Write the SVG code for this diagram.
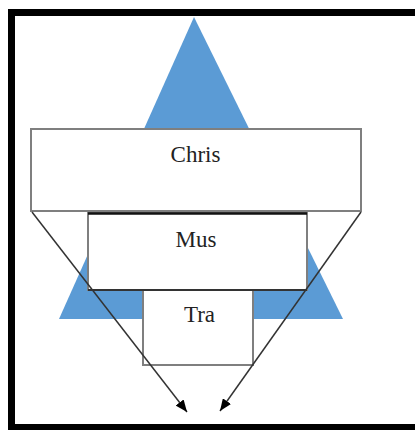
<svg xmlns="http://www.w3.org/2000/svg" width="415" height="430" viewBox="0 0 415 430">
<style>
.box{fill:#fff;stroke:#7f7f7f;stroke-width:2}
.lbl{font-family:"Liberation Serif","Times New Roman",serif;font-size:23px;fill:#222;text-anchor:middle}
.conn{stroke:#333;stroke-width:1.5;fill:none;marker-end:url(#ah)}
</style>
<defs>
<marker id="ah" viewBox="0 0 12 10" refX="12" refY="5" markerWidth="12" markerHeight="10" markerUnits="userSpaceOnUse" orient="auto">
<path d="M0,0 L12,5 L0,10 z" fill="#000"/>
</marker>
</defs>
<rect width="415" height="430" fill="#fff"/>
<rect x="11.5" y="12.5" width="410" height="415" fill="none" stroke="#000" stroke-width="7"/>
<polygon id="triangle" points="194,17 59,319 343,319" fill="#5b9bd5"/>
<g id="chris">
<rect class="box" x="31" y="129" width="330" height="82"/>
<text class="lbl" x="195.5" y="162">Chris</text>
</g>
<g id="mus">
<rect class="box" x="88" y="213" width="219" height="77"/>
<line x1="88" y1="213.5" x2="307" y2="213.5" stroke="#111" stroke-width="2.5"/>
<line x1="88" y1="290" x2="307" y2="290" stroke="#333" stroke-width="2"/>
<text class="lbl" x="196" y="247">Mus</text>
</g>
<g id="tra">
<rect class="box" x="143" y="290" width="110" height="75"/>
<line x1="88" y1="290" x2="307" y2="290" stroke="#333" stroke-width="2"/>
<text class="lbl" x="199.5" y="322">Tra</text>
</g>
<g id="connectors">
<line class="conn" x1="32" y1="212" x2="187" y2="412"/>
<line class="conn" x1="361" y1="212" x2="220" y2="411"/>
</g>
</svg>
